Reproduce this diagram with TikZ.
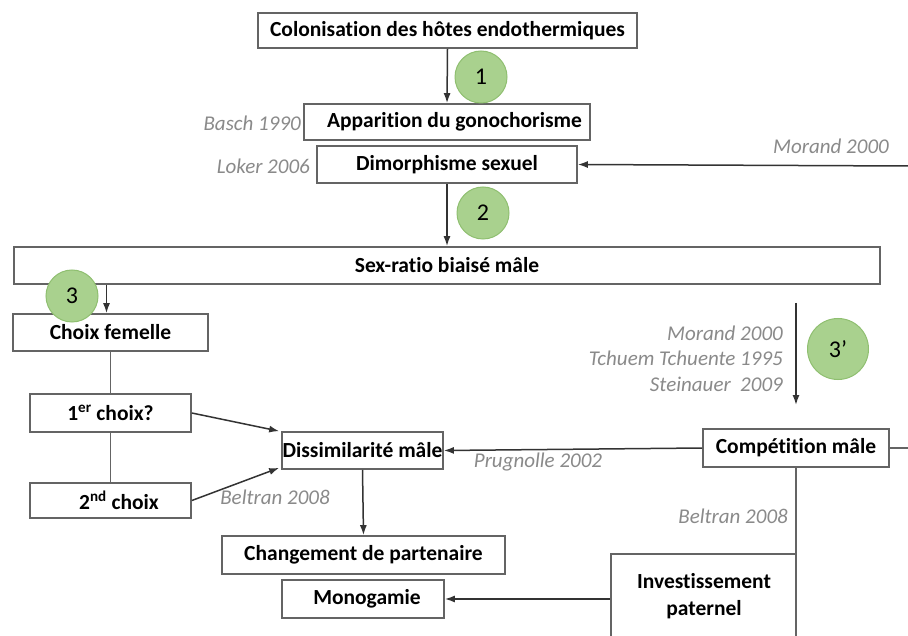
\documentclass[tikz,border=0pt]{standalone}
\usepackage{fontspec}
\setmainfont{Carlito}[Ligatures=NoCommon]
\usetikzlibrary{arrows.meta,calc}
\definecolor{boxgray}{HTML}{646464}
\definecolor{reftext}{HTML}{8A8A8A}
\definecolor{circfill}{HTML}{A9D18E}
\definecolor{circline}{HTML}{8FBF70}
\tikzset{
  box/.style={draw=boxgray, line width=1.7pt, fill=white, inner sep=0pt, font=\fontsize{21.5}{24}\selectfont\bfseries, text=black},
  refl/.style={font=\fontsize{21}{24}\selectfont\itshape, text=reftext, inner sep=0pt},
  num/.style={circle, draw=circline, line width=1pt, fill=circfill, minimum size=52pt, inner sep=0pt, font=\fontsize{24}{26}\selectfont},
  arr/.style={draw=black!80, line width=1.5pt, -{Latex[length=10pt,width=7pt]}},
  ln/.style={draw=boxgray, line width=1.6pt},
}
\begin{document}
\begin{tikzpicture}[x=1pt,y=-1pt]
\useasboundingbox (0,0) rectangle (908,636);
\clip (0,0) rectangle (908,636);
\fill[white] (0,0) rectangle (908,636);

% boxes
\node[box, minimum width=379pt, minimum height=35pt] (col) at (447.5,30.5) {Colonisation des hôtes endothermiques};
\node[box, minimum width=286pt, minimum height=36pt] (app) at (447,122) {\hspace{15pt}Apparition du gonochorisme};
\node[box, minimum width=260pt, minimum height=37pt] (dim) at (447,164.5) {Dimorphisme sexuel};
\node[box, minimum width=866pt, minimum height=37pt] (sex) at (447,265.5) {Sex-ratio biaisé mâle};
\node[box, minimum width=195pt, minimum height=37pt] (cf) at (110.5,332.5) {Choix femelle};
\node[box, minimum width=161pt, minimum height=38pt] (c1) at (110.5,413) {1\textsuperscript{er} choix?};
\node[box, minimum width=161pt, minimum height=35pt] (c2) at (110.5,500.5) {\hspace{17pt}2\textsuperscript{nd} choix};
\node[box, minimum width=161pt, minimum height=37pt] (dis) at (362.5,450.5) {Dissimilarité mâle};
\node[box, minimum width=283pt, minimum height=38pt] (chg) at (363.5,555) {Changement de partenaire};
\node[box, minimum width=162pt, minimum height=38pt] (mono) at (363,599) {\hspace{8pt}Monogamie};
\node[box, minimum width=186pt, minimum height=38pt] (comp) at (796,448) {Compétition mâle};
\node[box, minimum width=185pt, minimum height=96pt] (inv) at (703.5,602) {};
\node[font=\fontsize{21.5}{27}\selectfont\bfseries, align=center, inner sep=0pt] (invt) at (704,596.5) {Investissement\\paternel};

% free ends
\coordinate (rdim) at (908,166);
\coordinate (rcomp) at (908,448);
\coordinate (bcomp) at (796,640);
\coordinate (a3s) at (796,303);
\coordinate (a3e) at (796,405);

% connectors
\draw[arr] (col.south) -- (app.north);
\draw[arr] (dim.south) -- (sex.north);
\draw[arr] (rdim) -- (dim.east);
\draw[arr] ($(cf.north |- sex.south)+(-4,0)$) -- ($(cf.north)+(-4,0)$);
\draw[ln] (cf.south) -- (c1.north);
\draw[ln] (c1.south) -- (c2.north);
\draw[arr] (c1.east) -- ($(dis.north west)+(-2,0)$);
\draw[arr] (c2.east) -- ($(dis.south west)+(-2,-2)$);
\draw[arr] (comp.west) -- (dis.east);
\draw[arr] (dis.south) -- (chg.north);
\draw[arr] (inv.west |- mono.east) -- (mono.east);
\draw[ln] (comp.east) -- (rcomp);
\draw[ln] (comp.south) -- (bcomp);
\draw[arr] (a3s) -- (a3e);

% numbered circles
\node[num] (n1) at (481,77) {1};
\node[num] (n2) at (483,213) {2};
\node[num] (n3) at (72,296) {3};
\node[num, minimum size=61pt] (n3p) at (838,349) {3’};

% references
\node[refl, anchor=east] (r1) at (301,123) {Basch 1990};
\node[refl, anchor=east] (r2) at (310,166) {Loker 2006};
\node[refl] (r3) at (831,146) {Morand 2000};
\node[refl, anchor=east] (r4) at (783,333) {Morand 2000};
\node[refl, anchor=east] (r5) at (783,358) {Tchuem Tchuente 1995};
\node[refl, anchor=east] (r6) at (783,384) {Steinauer\ \ 2009};
\node[refl] (r7) at (538,462) {Prugnolle 2002};
\node[refl] (r8) at (275,497) {Beltran 2008};
\node[refl, anchor=east] (r9) at (788,516) {Beltran 2008};
\end{tikzpicture}
\end{document}
